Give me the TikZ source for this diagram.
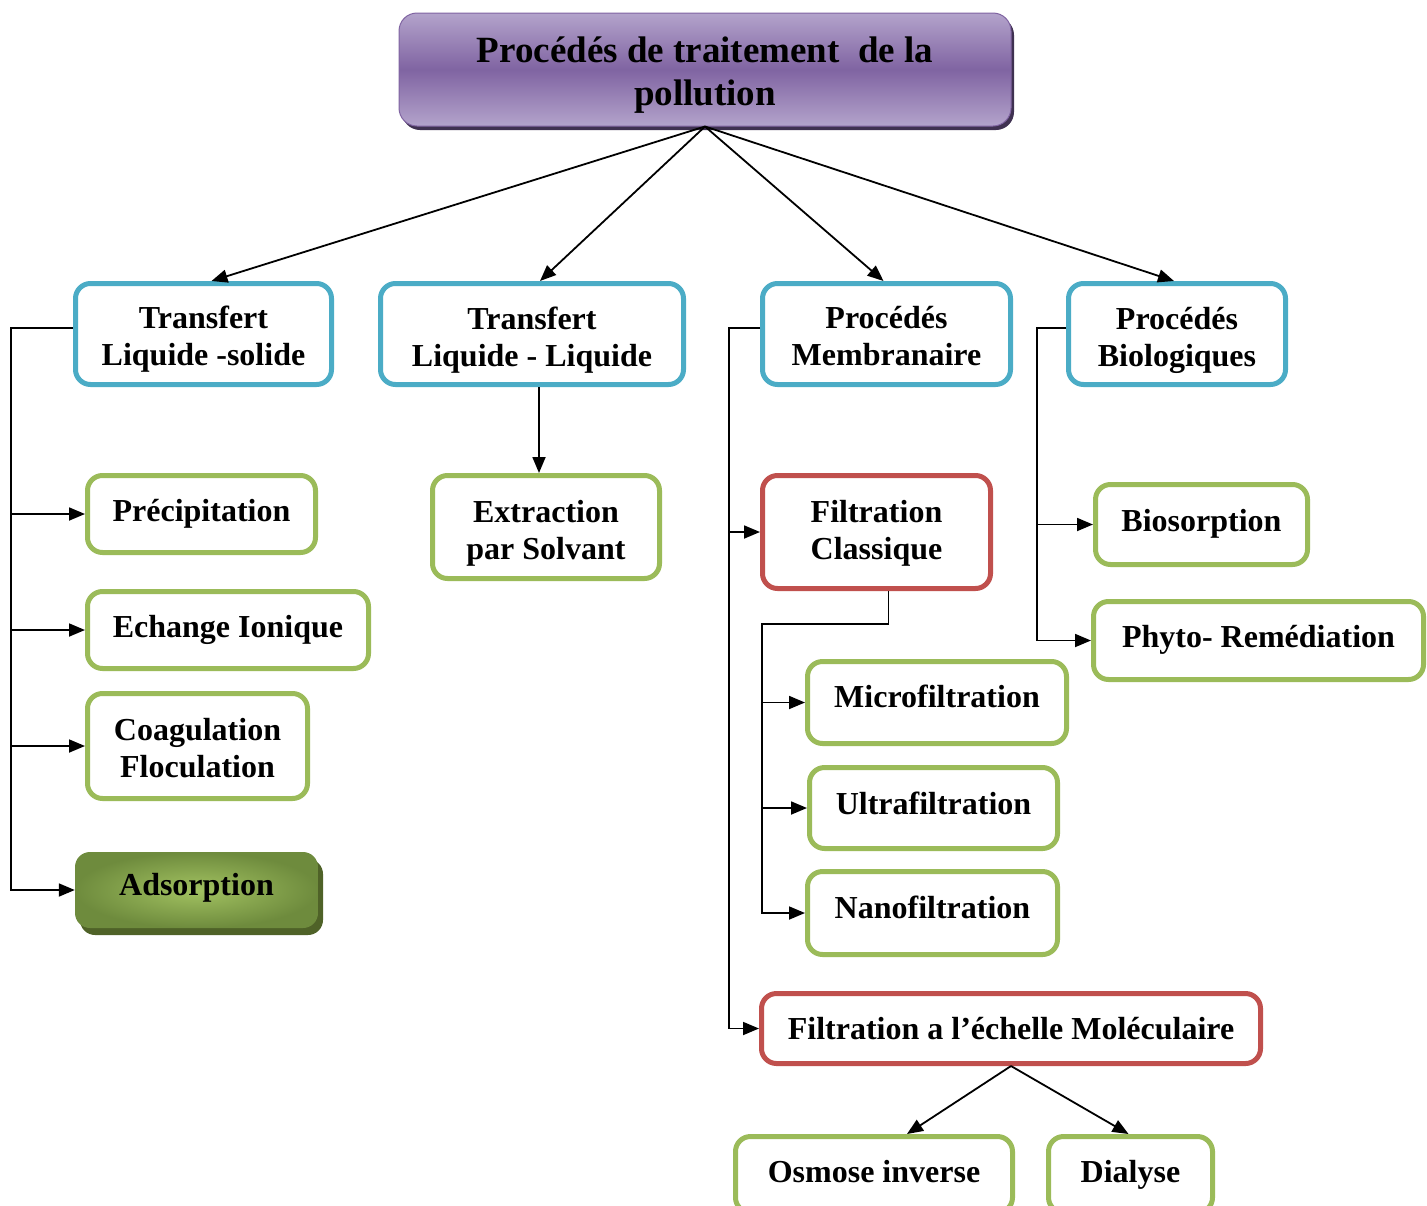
\documentclass[tikz,border=0pt]{standalone}
\usepackage{fontspec}
\setmainfont{Liberation Serif}
\usetikzlibrary{arrows.meta,shadows}
\definecolor{boxblue}{HTML}{4BACC6}
\definecolor{boxgreen}{HTML}{9BBB59}
\definecolor{boxred}{HTML}{C0504D}
\definecolor{purplelight}{HTML}{B3A3CB}
\definecolor{purpledark}{HTML}{8064A2}
\definecolor{purpleshadow}{HTML}{3F3151}
\definecolor{olivedark}{HTML}{6E8B3D}
\definecolor{olivelight}{HTML}{A2C261}
\definecolor{oliveshadow}{HTML}{4F6228}
\begin{document}
\begin{tikzpicture}[x=1pt,y=-1pt,
          box/.style={rounded corners=15pt,line width=5pt,fill=white,align=center,
            font=\fontsize{32}{37}\selectfont\bfseries,inner sep=0pt},
          bluebox/.style={box,draw=boxblue},
          greenbox/.style={box,draw=boxgreen},
          redbox/.style={box,draw=boxred},
          arr/.style={line width=1.8pt,-{Triangle[length=16pt,width=13pt]}}
          ]
          \useasboundingbox (0,0) rectangle (1427,1205);
          \clip (0,0) rectangle (1427,1205);
          % top box
          \node[rounded corners=18pt,draw=purpledark,line width=1pt,
                top color=purplelight,bottom color=purplelight,middle color=purpledark,
                drop shadow={shadow xshift=3pt,shadow yshift=-4pt,fill=purpleshadow,opacity=1},
                minimum width=612pt,minimum height=113pt,align=center,inner sep=0pt,
                text height=80pt,font=\fontsize{37}{43}\selectfont\bfseries]
                (top) at (705,69.5) {Procédés de traitement \ de la\\pollution};
          % first level
          \node[bluebox,minimum width=256pt,minimum height=101pt,text height=70pt] (tls) at (203.5,334) {Transfert\\Liquide -solide};
          \node[bluebox,minimum width=303pt,minimum height=101pt,text height=72pt] (tll) at (532,334) {Transfert\\Liquide - Liquide};
          \node[bluebox,minimum width=248pt,minimum height=101pt,text height=64pt] (pm) at (886.5,334) {Procédés\\Membranaire};
          \node[bluebox,minimum width=217pt,minimum height=101pt,text height=72pt] (pb) at (1177,334) {Procédés\\Biologiques};
          % liquide-solide
          \node[greenbox,minimum width=228pt,minimum height=77pt,text depth=8pt] (prec) at (201.5,514) {Précipitation};
          \node[greenbox,minimum width=281pt,minimum height=77pt,text depth=7pt] (echange) at (228,630) {Echange Ionique};
          \node[greenbox,minimum width=220pt,minimum height=105pt,text height=63pt] (coag) at (197.5,746) {Coagulation\\Floculation};
          \node[rounded corners=15pt,inner color=olivelight,outer color=olivedark,
                drop shadow={shadow xshift=5pt,shadow yshift=-7pt,fill=oliveshadow,opacity=1},
                minimum width=243pt,minimum height=76pt,text depth=12pt,inner sep=0pt,
                font=\fontsize{32}{37}\selectfont\bfseries] (ads) at (196.5,890) {Adsorption};
          % liquide-liquide
          \node[greenbox,minimum width=227pt,minimum height=103pt,text height=72pt] (extr) at (546,527) {Extraction\\par Solvant};
          % membranaire
          \node[redbox,minimum width=228pt,minimum height=113pt,text height=62pt] (filcl) at (876.5,532) {Filtration\\Classique};
          \node[greenbox,minimum width=259pt,minimum height=82pt,text depth=12pt] (micro) at (937,702.5) {Microfiltration};
          \node[greenbox,minimum width=248pt,minimum height=81pt,text depth=10pt] (ultra) at (933.5,808) {Ultrafiltration};
          \node[greenbox,minimum width=250pt,minimum height=83pt,text depth=12pt] (nano) at (932.5,913) {Nanofiltration};
          \node[redbox,minimum width=499pt,minimum height=70pt] (filmol) at (1011,1028.5) {Filtration a l’échelle Moléculaire};
          \node[greenbox,minimum width=277pt,minimum height=76pt,text depth=6pt] (osmose) at (874,1174.5) {Osmose inverse};
          \node[greenbox,minimum width=164pt,minimum height=76pt] (dialyse) at (1130.5,1174.5) {Dialyse};
          % biologiques
          \node[greenbox,minimum width=212pt,minimum height=80pt,text depth=8pt] (bios) at (1201.5,524.5) {Biosorption};
          \node[greenbox,minimum width=330pt,minimum height=78pt,text depth=8pt] (phyto) at (1258.5,640.5) {Phyto- Remédiation};
          % buses
          \coordinate (lbus) at (11,328);
          \coordinate (mbus) at (729,328);
          \coordinate (fbus) at (762,624);
          \coordinate (bbus) at (1037,328);
          % connectors
          \draw[arr] (top.south) -- ([xshift=8pt]tls.north);
          \draw[arr] (top.south) -- ([xshift=8pt]tll.north);
          \draw[arr] (top.south) -- ([xshift=-3pt]pm.north);
          \draw[arr] (top.south) -- ([xshift=-3pt]pb.north);
          \draw[arr] ([yshift=6pt]tls.west) -- (lbus) |- (ads.west);
          \draw[arr] (lbus |- prec.west) -- (prec.west);
          \draw[arr] (lbus |- echange.west) -- (echange.west);
          \draw[arr] (lbus |- coag.west) -- (coag.west);
          \draw[arr] ([xshift=7pt]tll.south) -- ([xshift=-7pt]extr.north);
          \draw[arr] ([yshift=6pt]pm.west) -- (mbus) |- (filmol.west);
          \draw[arr] (mbus |- filcl.west) -- (filcl.west);
          \draw[arr] ([xshift=12pt]filcl.south) |- (fbus) |- (nano.west);
          \draw[arr] (fbus |- micro.west) -- (micro.west);
          \draw[arr] (fbus |- ultra.west) -- (ultra.west);
          \draw[arr] ([yshift=6pt]pb.west) -- (bbus) |- (phyto.west);
          \draw[arr] (bbus |- bios.west) -- (bios.west);
          \draw[arr] (filmol.south) -- ([xshift=33pt]osmose.north);
          \draw[arr] (filmol.south) -- ([xshift=-2pt]dialyse.north);
        \end{tikzpicture}
\end{document}
